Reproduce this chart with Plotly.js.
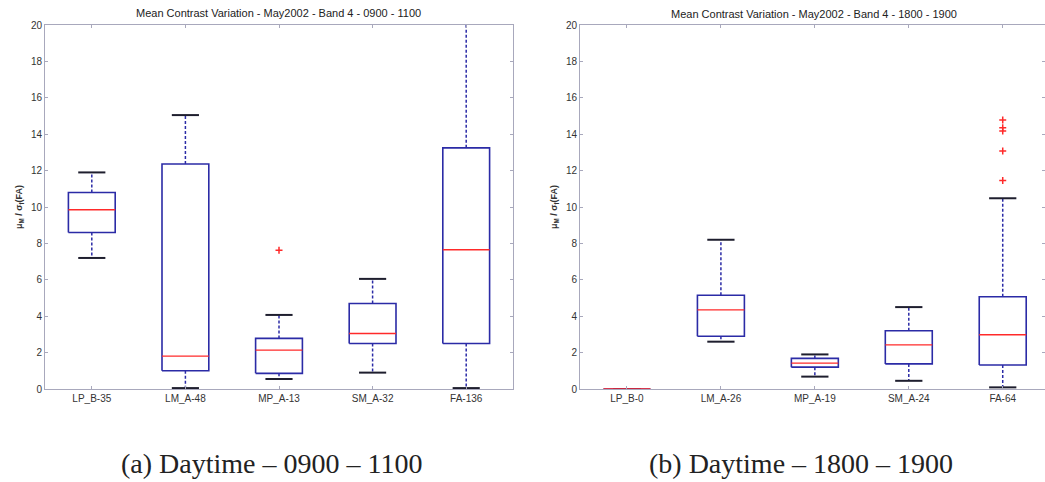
<!DOCTYPE html>
<html>
<head>
<meta charset="utf-8">
<script src="https://cdn.plot.ly/plotly-3.0.1.min.js"></script>
<style>html,body{margin:0;padding:0;background:#fff;}#chart{width:1045px;height:482px;}</style>
</head>
<body>
<div id="chart"></div>
<script>
// ---- Data (a) 0900-1100 ----
const catsA = ["LP_B-35", "LM_A-48", "MP_A-13", "SM_A-32", "FA-136"];
const lowerA = [7.2, 0.05, 0.55, 0.9, 0.05];
const q1A = [8.6, 1.0, 0.86, 2.5, 2.5];
const medA = [9.85, 1.81, 2.14, 3.05, 7.65];
const q3A = [10.8, 12.36, 2.78, 4.7, 13.25];
const upperA = [11.9, 15.05, 4.07, 6.05, 22];
const outCatA = [2];
const outValA = [7.62];

// ---- Data (b) 1800-1900 ----
const catsB = ["LP_B-0", "LM_A-26", "MP_A-19", "SM_A-24", "FA-64"];
const lowerB = [0, 2.6, 0.68, 0.45, 0.09];
const q1B = [0, 2.9, 1.2, 1.38, 1.32];
const medB = [0, 4.35, 1.42, 2.42, 2.98];
const q3B = [0, 5.15, 1.68, 3.2, 5.07];
const upperB = [0, 8.2, 1.9, 4.5, 10.48];
const outCatB = [4, 4, 4, 4, 4];
const outValB = [11.45, 13.08, 14.18, 14.36, 14.78];

const titleA = "Mean Contrast Variation - May2002 - Band 4 - 0900 - 1100";
const titleB = "Mean Contrast Variation - May2002 - Band 4 - 1800 - 1900";
const captionA = "(a) Daytime \u2013 0900 \u2013 1100";
const captionB = "(b) Daytime \u2013 1800 \u2013 1900";
const yLabel = "<b>\u03bc<sub>M</sub> / \u03c3<sub>f</sub>(FA)</b>";

const BLUE = "#2b2ba6", RED = "#ff2a2a", CAP = "#1e1e2e";
const HW = 0.25, CW = 0.145;

function boxTraces(lower, q1, med, q3, upper, outCat, outVal, xa, ya) {
  const box = {x: [], y: []}, wu = {x: [], y: []}, wl = {x: [], y: []},
        caps = {x: [], y: []}, meds = {x: [], y: []};
  for (let i = 0; i < med.length; i++) {
    box.x.push(i - HW, i + HW, i + HW, i - HW, i - HW, null);
    box.y.push(q1[i], q1[i], q3[i], q3[i], q1[i], null);
    wu.x.push(i, i, null); wu.y.push(q3[i], upper[i], null);
    wl.x.push(i, i, null); wl.y.push(q1[i], lower[i], null);
    caps.x.push(i - CW, i + CW, null, i - CW, i + CW, null);
    caps.y.push(upper[i], upper[i], null, lower[i], lower[i], null);
    meds.x.push(i - HW, i + HW, null); meds.y.push(med[i], med[i], null);
  }
  const base = {type: "scatter", mode: "lines", xaxis: xa, yaxis: ya, hoverinfo: "skip", showlegend: false};
  return [
    Object.assign({}, base, wu, {line: {color: BLUE, width: 1.5, dash: "3px,2px"}}),
    Object.assign({}, base, wl, {line: {color: BLUE, width: 1.5, dash: "3px,2px"}}),
    Object.assign({}, base, caps, {line: {color: CAP, width: 2}}),
    Object.assign({}, base, box, {line: {color: BLUE, width: 1.6}}),
    Object.assign({}, base, meds, {line: {color: RED, width: 1.3}}),
    {type: "scatter", mode: "markers", x: outCat, y: outVal, xaxis: xa, yaxis: ya,
     showlegend: false, hoverinfo: "skip",
     marker: {symbol: "cross-thin", size: 5, color: RED, line: {color: RED, width: 1.5}}}
  ];
}

const data = [].concat(
  boxTraces(lowerA, q1A, medA, q3A, upperA, outCatA, outValA, "x", "y"),
  boxTraces(lowerB, q1B, medB, q3B, upperB, outCatB, outValB, "x2", "y2")
);

const tickFont = {family: "Liberation Sans, Arial, sans-serif", size: 10, color: "#333"};
function xAxis(domain, cats, range, anchor) {
  return {domain: domain, anchor: anchor, range: range, tickvals: cats.map((c, i) => i), ticktext: cats,
    showgrid: false, zeroline: false, showline: true, mirror: "ticks", linecolor: "#a8a8bc", linewidth: 1,
    ticks: "inside", ticklen: 3, tickcolor: "#a8a8bc", tickfont: tickFont, fixedrange: true};
}
function yAxis(domain, anchor) {
  return {domain: domain, anchor: anchor, range: [0, 20], dtick: 2, showgrid: false, zeroline: false,
    showline: true, mirror: "ticks", linecolor: "#a8a8bc", linewidth: 1, ticks: "inside", ticklen: 3,
    tickcolor: "#a8a8bc", tickfont: tickFont, fixedrange: true,
    title: {text: yLabel, font: {family: "Liberation Sans, Arial, sans-serif", size: 9, color: "#333"}, standoff: 6}};
}

const yd = [93 / 482, 457 / 482];
const layout = {
  width: 1045, height: 482,
  margin: {l: 0, r: 0, t: 0, b: 0},
  paper_bgcolor: "#fff", plot_bgcolor: "#fff",
  xaxis: xAxis([45 / 1045, 513 / 1045], catsA, [-0.5, 4.5], "y"),
  yaxis: yAxis(yd, "x"),
  xaxis2: xAxis([580 / 1045, 1], catsB, [-0.5, 4.45], "y2"),
  yaxis2: yAxis(yd, "x2"),
  annotations: [
    {text: titleA, xref: "paper", yref: "paper", x: 278 / 1045, y: 1 - 13 / 482, showarrow: false,
     xanchor: "center", yanchor: "middle", font: {family: "Liberation Sans, Arial, sans-serif", size: 11, color: "#222"}},
    {text: titleB, xref: "paper", yref: "paper", x: 814 / 1045, y: 1 - 14 / 482, showarrow: false,
     xanchor: "center", yanchor: "middle", font: {family: "Liberation Sans, Arial, sans-serif", size: 11, color: "#222"}},
    {text: captionA, xref: "paper", yref: "paper", x: 271 / 1045, y: 1 - 463 / 482, showarrow: false,
     xanchor: "center", yanchor: "middle", font: {family: "Liberation Serif, Times New Roman, serif", size: 28, color: "#222"}},
    {text: captionB, xref: "paper", yref: "paper", x: 801 / 1045, y: 1 - 463 / 482, showarrow: false,
     xanchor: "center", yanchor: "middle", font: {family: "Liberation Serif, Times New Roman, serif", size: 28, color: "#222"}}
  ]
};

Plotly.newPlot("chart", data, layout, {displayModeBar: false, staticPlot: true});
</script>
</body>
</html>
